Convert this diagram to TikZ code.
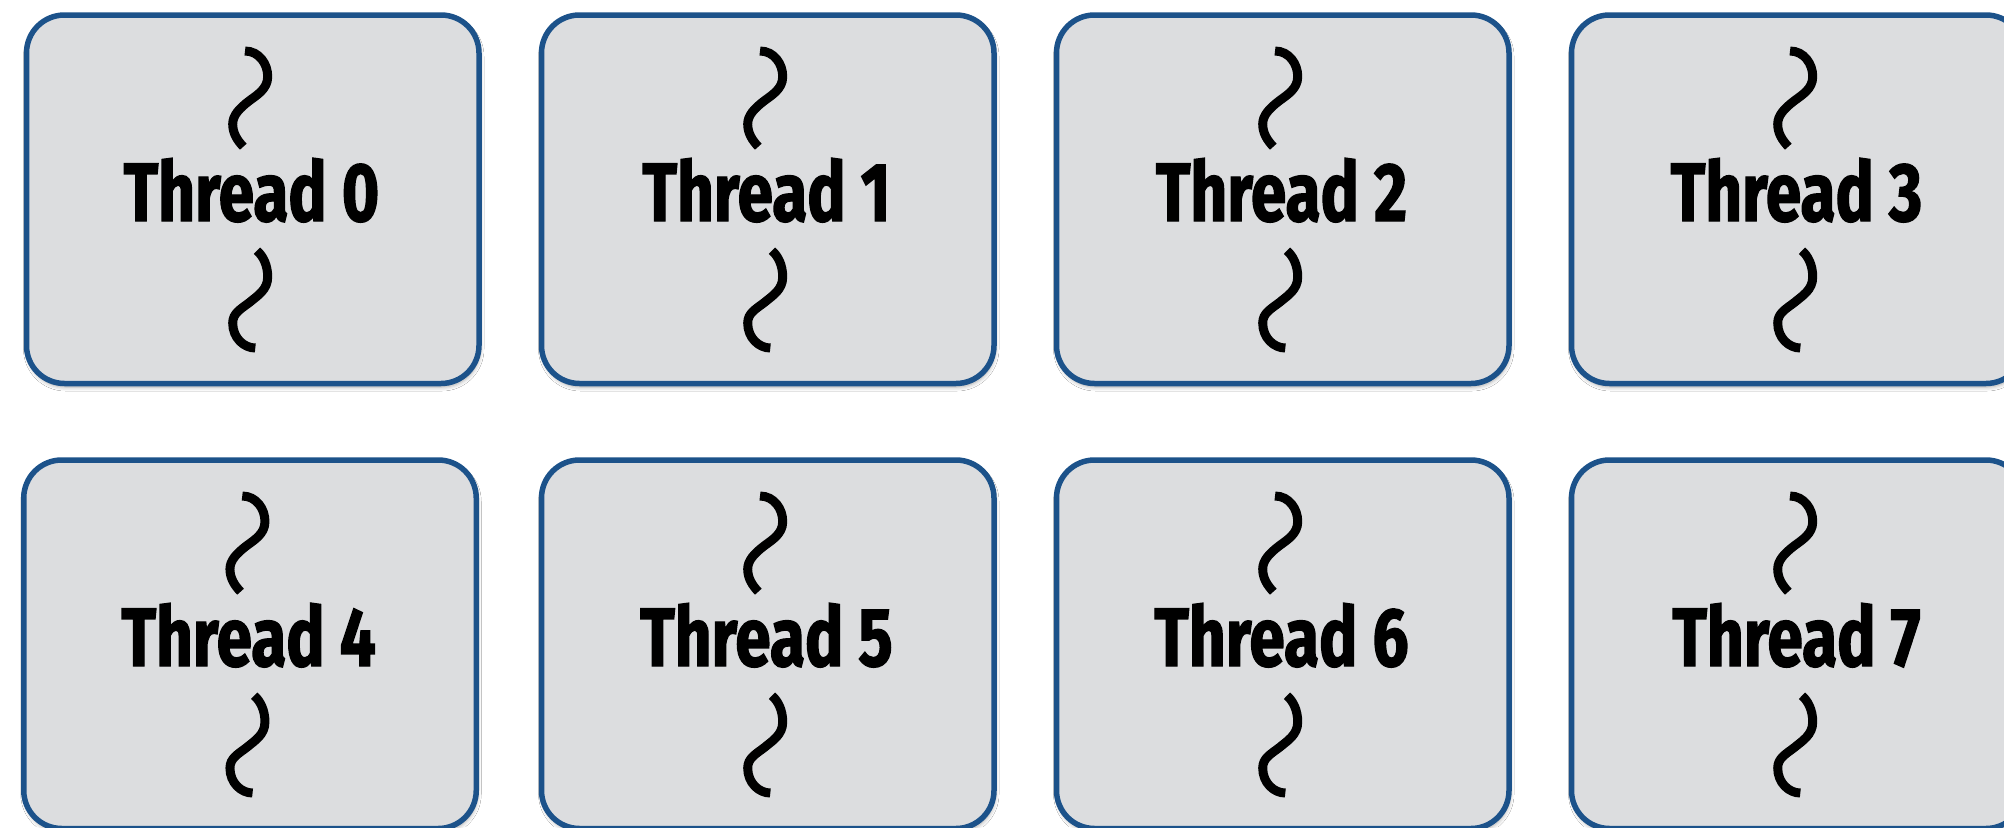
\documentclass[tikz,border=0pt]{standalone}
\usepackage{fontspec}
\setmainfont{Fira Sans}[FakeStretch=0.77, BoldFeatures={FakeBold=1.6}]
\usetikzlibrary{shadows.blur}
\definecolor{boxfill}{RGB}{220,221,223}
\definecolor{boxline}{RGB}{28,82,138}
\tikzset{
  tbox/.style={draw=boxline, fill=boxfill, line width=5.5pt, rounded corners=38pt,
    minimum width=452.5pt, minimum height=368.5pt, inner sep=0pt,
    blur shadow={shadow xshift=1pt, shadow yshift=-3.5pt, shadow blur radius=4pt, shadow opacity=35}},
  tlabel/.style={inner sep=0pt, font=\fontsize{83}{90}\selectfont\bfseries},
  squig/.style={draw=black, line width=9pt, line cap=butt}
}
\newcommand\threadbox[4]{%
  \node[tbox] (b#1) at (#2,#3) {};
  \begin{scope}[shift={(#2-252.75,#3-199.25)}]
    \node[tlabel, anchor=base] (t#1) at (251.5,221) {#4};
    \draw[squig] (245,51) .. controls (259,51) and (268,64) .. (267.7,77)
      .. controls (267.5,89) and (257,95) .. (249,101)
      .. controls (240,108) and (232.7,115) .. (232.7,124)
      .. controls (232.7,133) and (237,140) .. (243.3,146.7);
    \draw[squig] (257,250.7) .. controls (263,256) and (267.7,265) .. (267.7,277)
      .. controls (267.7,290) and (257,296) .. (250,302)
      .. controls (241,309) and (232.7,313) .. (232.7,323)
      .. controls (232.7,338) and (244,348) .. (255.3,348);
  \end{scope}}
\begin{document}
\begin{tikzpicture}[x=1pt,y=-1pt]
\useasboundingbox (0,0) rectangle (2004,827);
\clip (0,0) rectangle (2004,827);
\fill[white] (0,0) rectangle (2004,827);
\threadbox{0}{252.75}{199.25}{Thread 0}
\threadbox{1}{767.75}{199.25}{Thread 1}
\threadbox{2}{1282.75}{199.25}{Thread 2}
\threadbox{3}{1797.75}{199.25}{Thread 3}
\threadbox{4}{250}{644.25}{Thread 4}
\threadbox{5}{767.75}{644.25}{Thread 5}
\threadbox{6}{1282.75}{644.25}{Thread 6}
\threadbox{7}{1797.75}{644.25}{Thread 7}
\end{tikzpicture}
\end{document}
